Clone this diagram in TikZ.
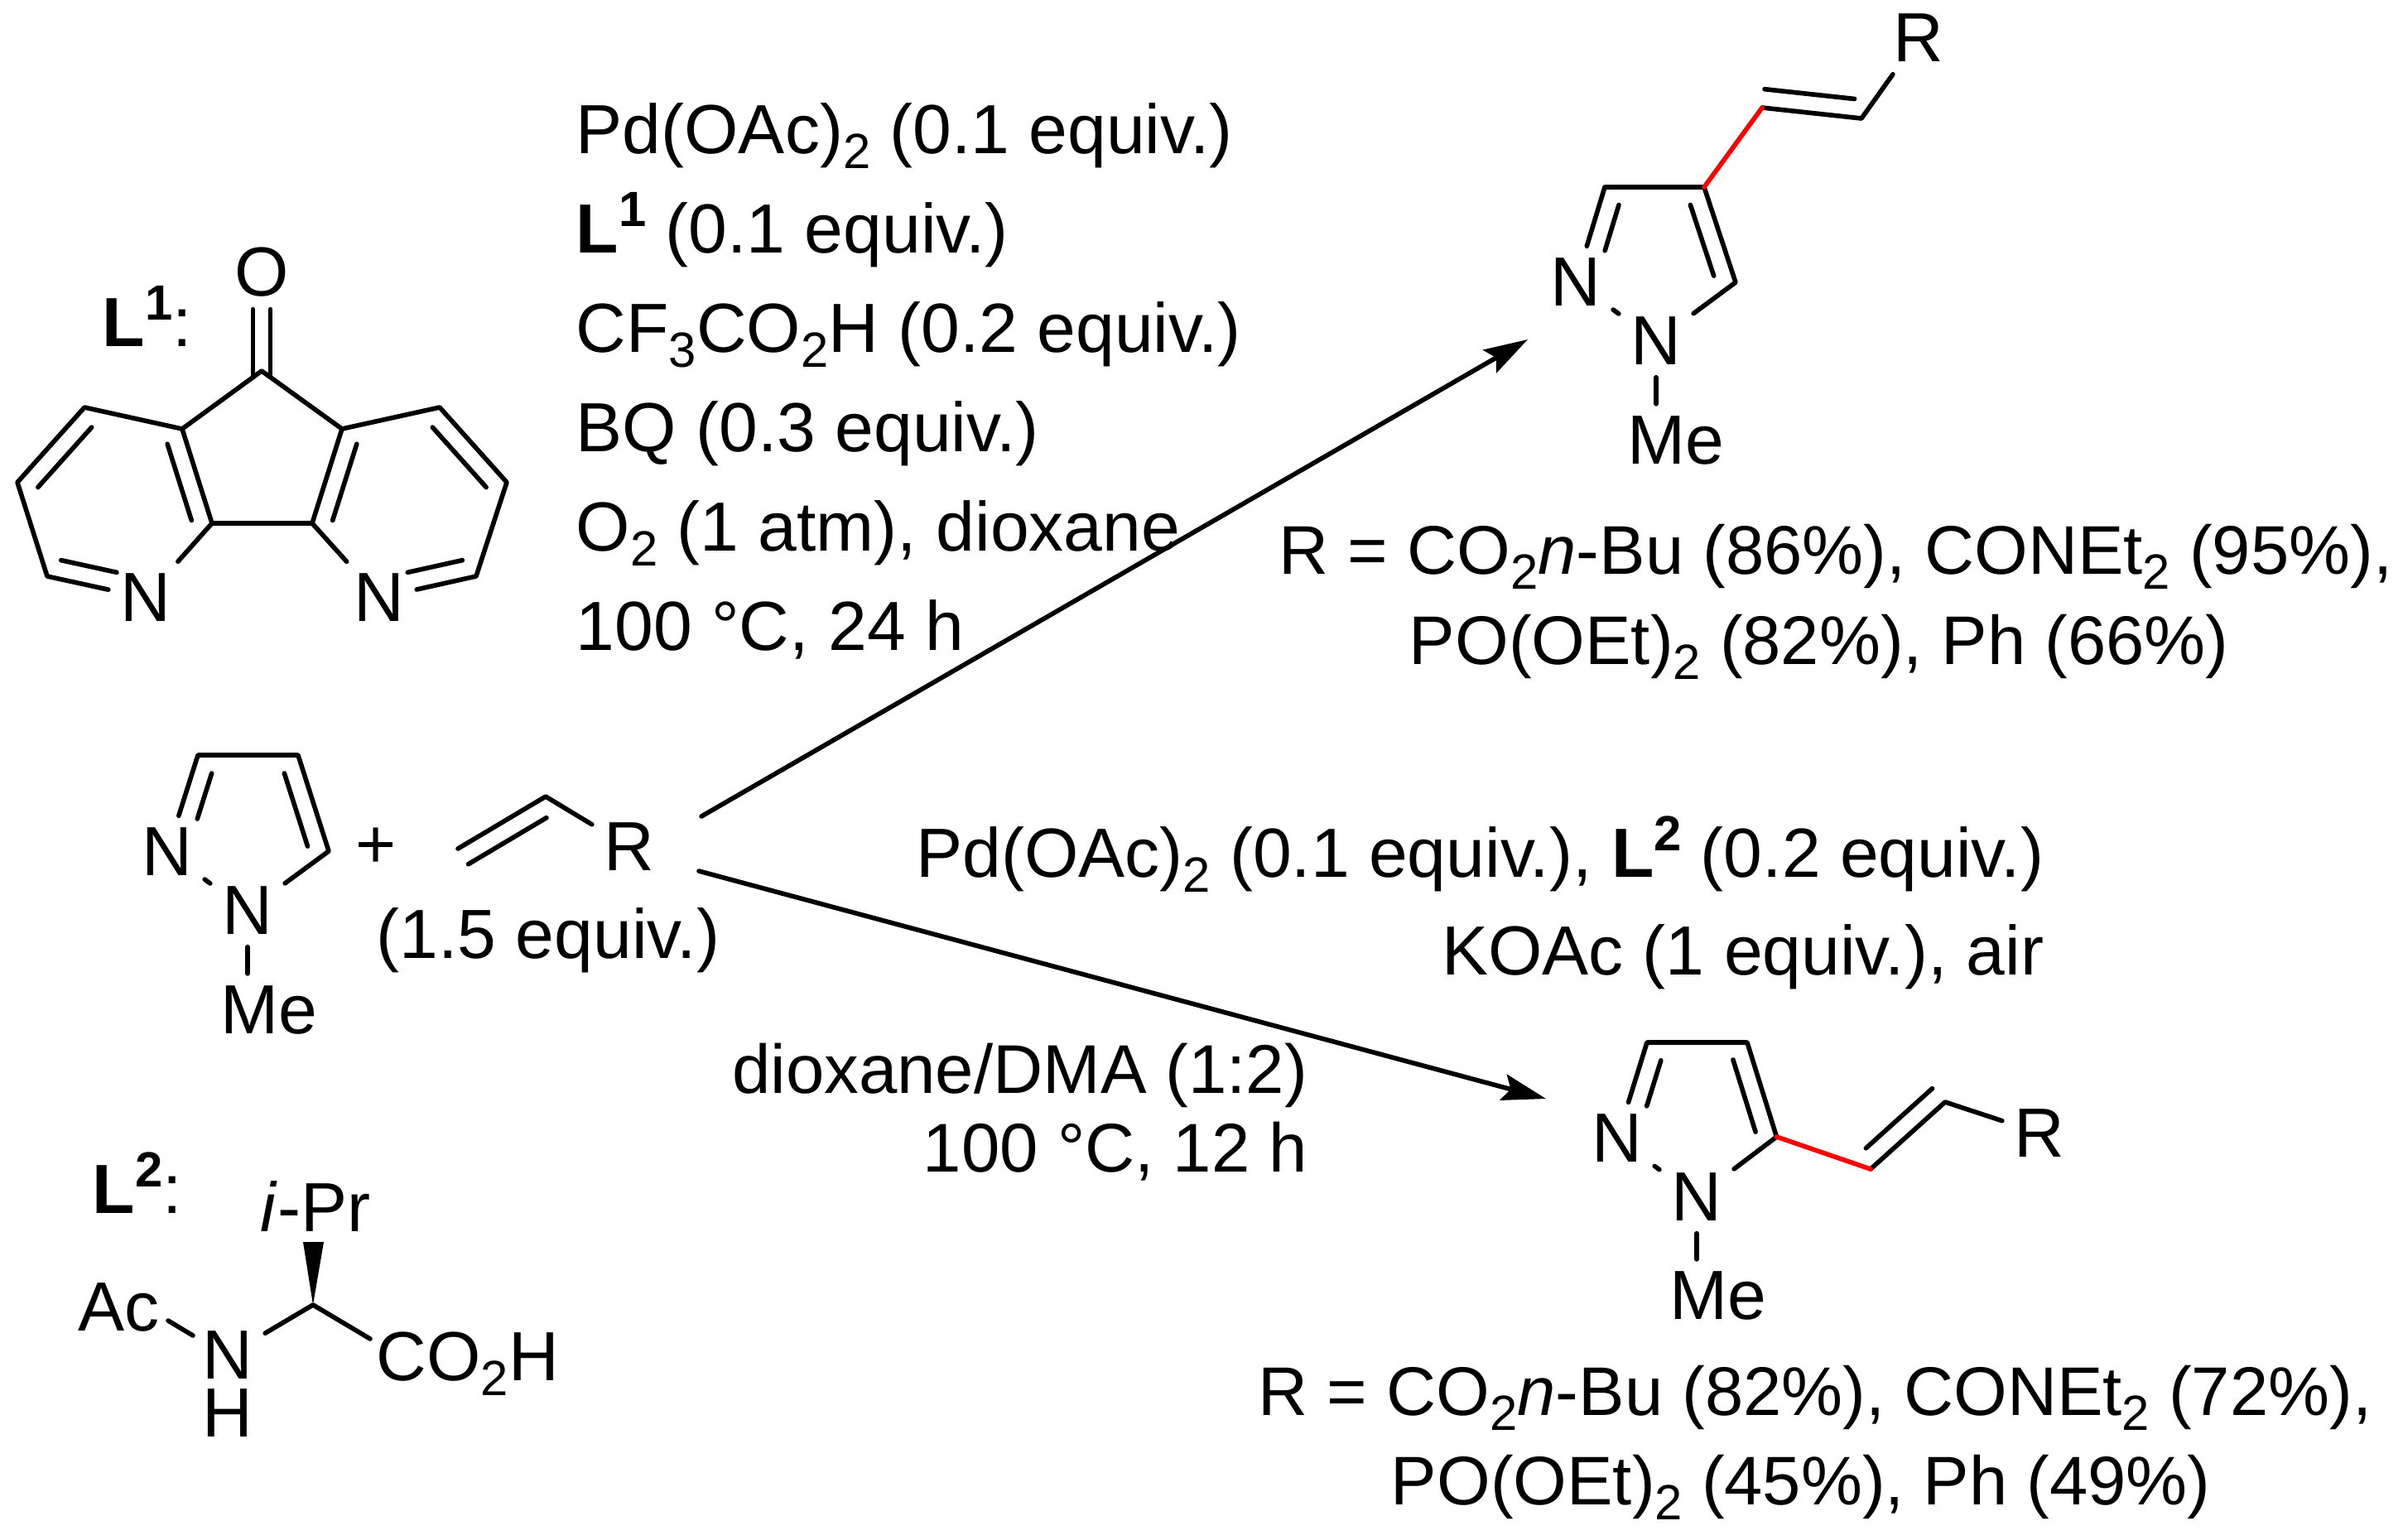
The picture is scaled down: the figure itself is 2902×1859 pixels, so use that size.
\documentclass[tikz,border=0pt]{standalone}
\usepackage{fontspec}
\setmainfont{Liberation Sans}
\usetikzlibrary{calc, arrows.meta}

\newcommand{\chemfont}{\fontsize{23.9}{33.5}\selectfont}
\newcommand{\subtxt}[1]{\raisebox{-0.18cm}{\fontsize{17}{17}\selectfont #1}}
\newcommand{\suptxt}[1]{\raisebox{0.32cm}{\fontsize{17}{17}\selectfont #1}}
\newcommand{\inbond}[4]{\draw ($(#1)!#3!(#2)!0.225cm!90:(#2)$) -- ($(#1)!#4!(#2)!0.225cm!90:(#2)$);}

\begin{document}
\begin{tikzpicture}[x = 0.01cm, y = -0.01cm, line width = 1.6pt, line cap = round, line join = round,
    every node/.style = {font = \chemfont},
    atom/.style = {inner sep = 0.12cm},
    txt/.style = {inner sep = 0pt, anchor = base west},
    yield/.style = {txt, font = \fontsize{23.65}{33.5}\selectfont},
    react/.style = {-{Stealth[length = 0.53cm, width = 0.32cm, inset = 0.09cm]}}]
    \useasboundingbox (0, 0) rectangle (2902, 1859);

    % L1
    \node[txt] (lonelabel) at (121, 418) {\textbf{L\suptxt{1}}:};
    \node[atom] (lonO) at (316, 329) {O};
    \node[atom] (lonNl) at (176, 722) {N};
    \node[atom] (lonNr) at (458, 722) {N};
    \coordinate (co) at (316, 448);
    \coordinate (la) at (220, 518);
    \coordinate (lb) at (256, 632);
    \coordinate (lc) at (102, 492);
    \coordinate (ld) at (21, 582.5);
    \coordinate (le) at (57, 696);
    \coordinate (ra) at (413, 518);
    \coordinate (rb) at (377, 632);
    \coordinate (rc) at (531, 492);
    \coordinate (rd) at (612, 582.5);
    \coordinate (re) at (575, 696);
    \draw ([xshift = -0.105cm]lonO.south) -- ([xshift = -0.105cm, yshift = -0.05cm]co);
    \draw ([xshift = 0.105cm]lonO.south) -- ([xshift = 0.105cm, yshift = -0.05cm]co);
    \draw (la) -- (co) -- (ra);
    \draw (lonNl) -- (lb) -- (la) -- (lc) -- (ld) -- (le) -- (lonNl);
    \draw (lonNr) -- (rb) -- (ra) -- (rc) -- (rd) -- (re) -- (lonNr);
    \draw (lb) -- (rb);
    \inbond{lc}{ld}{0.10}{0.90}
    \inbond{lb}{la}{0.09}{0.90}
    \inbond{le}{lonNl}{0.10}{0.665}
    \inbond{rd}{rc}{0.10}{0.90}
    \inbond{ra}{rb}{0.10}{0.91}
    \inbond{lonNr}{re}{0.335}{0.90}

    % substrates
    \node[atom] (subNb) at (202, 1029) {N};
    \node[atom] (subNa) at (299, 1100) {N};
    \node[atom] (subMe) at (324.5, 1220) {Me};
    \coordinate (subc) at (239, 912);
    \coordinate (subd) at (360, 912);
    \coordinate (sube) at (397, 1028);
    \draw (subNb) -- (subc) -- (subd) -- (sube) -- (subNa) -- (subNb);
    \draw (subNa.south) -- (subNa.south |- subMe.north);
    \inbond{subc}{subNb}{0.13}{0.60}
    \inbond{sube}{subd}{0.11}{0.87}
    \node (plus) at (454, 1024) {+};
    \node[atom] (olefR) at (760, 1023) {R};
    \coordinate (olefa) at (659, 962);
    \coordinate (olefb) at (553, 1025);
    \draw (olefb) -- (olefa) -- (olefR);
    \inbond{olefa}{olefb}{0.10}{0.99}
    \node[txt] (equiv) at (452, 1157) {(1.5 equiv.)};

    % L2
    \node[txt] (ltwolabel) at (109, 1465) {\textbf{L\suptxt{2}}:};
    \node[txt] (ipr) at (312, 1487) {\textit{i}-Pr};
    \node[txt] (ac) at (92, 1607) {Ac};
    \node[atom] (ltwoN) at (275, 1637) {N};
    \node[atom] (ltwoH) at (275, 1707) {H};
    \node[txt] (cooh) at (452, 1667) {CO\subtxt{2}H};
    \coordinate (alpha) at (378, 1576);
    \coordinate (wedgel) at (366, 1500);
    \coordinate (wedger) at (391, 1500);
    \coordinate (acend) at (203, 1595);
    \coordinate (acN) at (233, 1613);
    \coordinate (coohend) at (447, 1617);
    \fill (wedgel) -- (wedger) -- (alpha) -- cycle;
    \draw (acend) -- (acN);
    \draw (ltwoN) -- (alpha) -- (coohend);

    % conditions
    \node[inner sep = 0pt, anchor = north west, align = left, font = \fontsize{23.9}{34.1}\selectfont] (condup) at (693, 122) {Pd(OAc)\subtxt{2} (0.1 equiv.)\\
        \textbf{L\suptxt{1}} (0.1 equiv.)\\
        CF\subtxt{3}CO\subtxt{2}H (0.2 equiv.)\\
        BQ (0.3 equiv.)\\
        O\subtxt{2} (1 atm), dioxane\\
        100 °C, 24 h};
    \node[inner sep = 0pt, anchor = north east, align = right] (condlowa) at (2471, 983) {Pd(OAc)\subtxt{2} (0.1 equiv.), \textbf{L\suptxt{2}} (0.2 equiv.)\\
        KOAc (1 equiv.), air};
    \node[inner sep = 0pt, anchor = north east, align = right, font = \fontsize{23.7}{27}\selectfont] (condlowb) at (1582, 1257) {dioxane/DMA (1:2)\\
        100 °C, 12 h};

    % arrows
    \coordinate (arrowa) at (847, 986);
    \coordinate (tipa) at (1845, 410);
    \coordinate (arrowb) at (844, 1052);
    \coordinate (tipb) at (1867, 1327);
    \draw[react] (arrowa) -- (tipa);
    \draw[react] (arrowb) -- (tipb);

    % upper product
    \node[atom] (upNb) at (1903, 341) {N};
    \node[atom] (upNa) at (2000, 412) {N};
    \node[atom] (upMe) at (2023.6, 532) {Me};
    \node[atom] (upR) at (2317, 46) {R};
    \coordinate (upc) at (1938, 226);
    \coordinate (upd) at (2058, 226);
    \coordinate (upe) at (2096, 341);
    \coordinate (upf) at (2128, 130);
    \coordinate (upg) at (2248, 143);
    \draw (upNb) -- (upc) -- (upd) -- (upe) -- (upNa) -- (upNb);
    \draw (upNa.south) -- (upNa.south |- upMe.north);
    \draw (upf) -- (upg) -- (upR);
    \draw[red] (upd) -- (upf);
    \inbond{upc}{upNb}{0.13}{0.61}
    \inbond{upe}{upd}{0.13}{0.875}
    \inbond{upf}{upg}{0.005}{0.91}
    \node[yield] (upyielda) at (1542, 693) {R = CO\subtxt{2}\textit{n}-Bu (86\%), CONEt\subtxt{2} (95\%),};
    \node[yield] (upyieldb) at (1699, 802) {PO(OEt)\subtxt{2} (82\%), Ph (66\%)};

    % lower product
    \node[atom] (lowNb) at (1953, 1375) {N};
    \node[atom] (lowNa) at (2049, 1446) {N};
    \node[atom] (lowMe) at (2074.6, 1565) {Me};
    \node[atom] (lowR) at (2463, 1368.5) {R};
    \coordinate (lowc) at (1989, 1259);
    \coordinate (lowd) at (2110, 1259);
    \coordinate (lowe) at (2145.5, 1373);
    \coordinate (lowf) at (2259, 1412);
    \coordinate (lowg) at (2349, 1331);
    \draw (lowNb) -- (lowc) -- (lowd) -- (lowe) -- (lowNa) -- (lowNb);
    \draw (lowNa.south) -- (lowNa.south |- lowMe.north);
    \draw (lowf) -- (lowg) -- (lowR);
    \draw[red] (lowe) -- (lowf);
    \inbond{lowc}{lowNb}{0.13}{0.605}
    \inbond{lowe}{lowd}{0.11}{0.875}
    \inbond{lowf}{lowg}{0.105}{0.995}
    \node[yield] (lowyielda) at (1517, 1709) {R = CO\subtxt{2}\textit{n}-Bu (82\%), CONEt\subtxt{2} (72\%),};
    \node[yield] (lowyieldb) at (1677, 1817) {PO(OEt)\subtxt{2} (45\%), Ph (49\%)};
\end{tikzpicture}
\end{document}
